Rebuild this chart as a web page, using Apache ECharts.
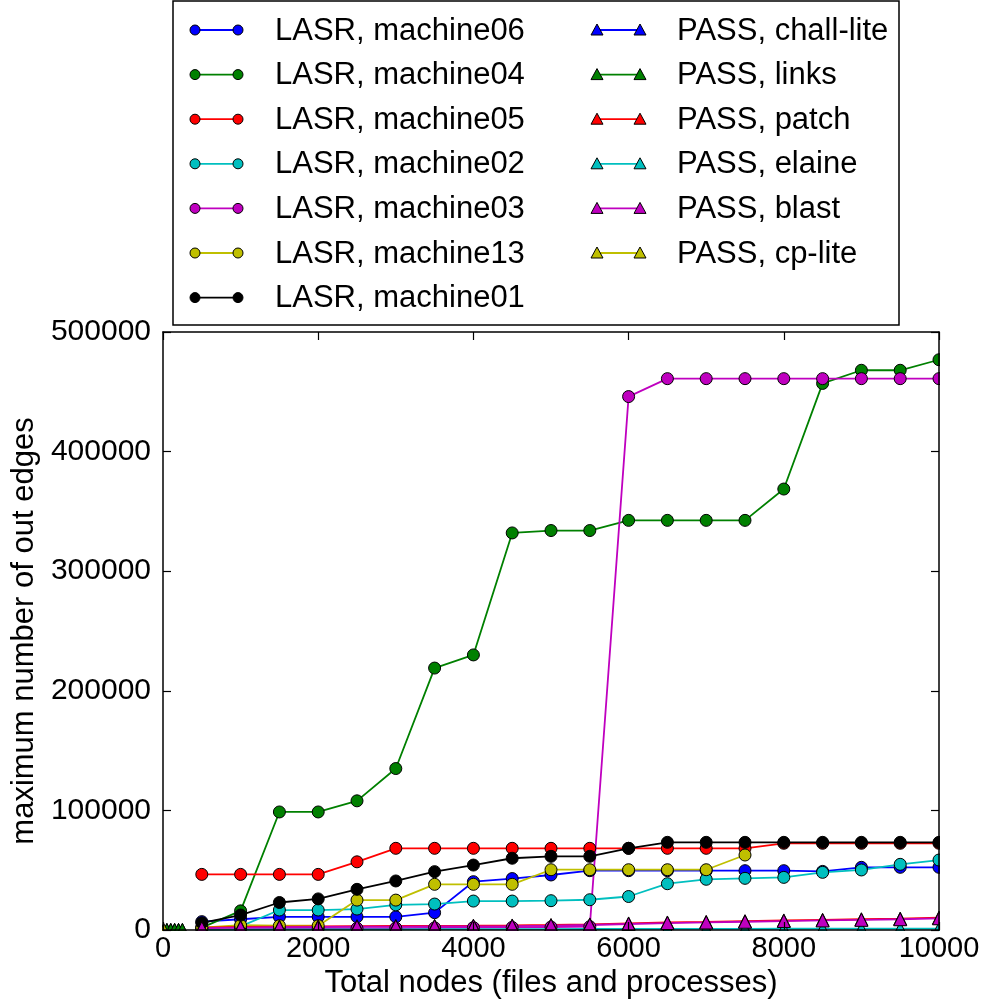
<!DOCTYPE html>
<html>
<head>
<meta charset="utf-8">
<script src="https://cdn.jsdelivr.net/npm/echarts@6/dist/echarts.min.js"></script>
<style>
  html, body { margin: 0; padding: 0; background: #fff; }
  #chart { width: 987px; height: 1000px; }
</style>
</head>
<body>
<div id="chart"></div>
<script>
// Sample sizes (total nodes) at which the LASR traces were measured
const xLasr = [500, 1000, 1500, 2000, 2500, 3000, 3500, 4000, 4500, 5000,
               5500, 6000, 6500, 7000, 7500, 8000, 8500, 9000, 9500, 10000];

// LASR traces: maximum number of out edges
const machine06 = [7000, 9000, 11000, 11000, 11000, 11000, 14500, 40400, 43000, 46000,
                   49600, 49600, 49600, 49600, 49600, 49600, 49000, 52400, 52400, 52400];
const machine04 = [2000, 16000, 98700, 98700, 108000, 135000, 219000, 230000, 332000, 334000,
                   334000, 342500, 342500, 342500, 342500, 368700, 457000, 468000, 468000, 476800];
const machine05 = [46500, 46500, 46500, 46500, 57000, 68300, 68300, 68300, 68300, 68300,
                   68300, 68300, 68300, 68300, 68300, 72500, 72500, 72500, 72500, 72500];
const machine02 = [1500, 3000, 16700, 16700, 17500, 21000, 21700, 24200, 24200, 24500,
                   25300, 28000, 38700, 42400, 43200, 44000, 48200, 50200, 54900, 58500];
const machine03 = [500, 800, 1000, 1200, 1400, 1600, 1800, 2000, 2200, 2500,
                   2800, 446000, 461000, 461000, 461000, 461000, 461000, 461000, 461000, 461000];
const machine13 = [2000, 4000, 3600, 3600, 25000, 25000, 38200, 38200, 38200, 50400,
                   50400, 50400, 50400, 50400, 62700];
const machine01 = [6000, 12500, 23000, 26000, 34000, 41000, 48800, 54300, 60000, 61600,
                   61600, 68300, 73300, 73300, 73300, 73300, 73300, 73300, 73300, 73300];

// PASS traces
const xPassSmall = [50, 100, 150, 200, 250];
const challLite = [0, 0, 0, 0, 0];
const links = [20, 40, 60, 80, 100];
const xPass = xLasr;
const patch = [2000, 2500, 2800, 3000, 3200, 3400, 3500, 3600, 3800, 4200,
               4700, 5500, 6300, 6800, 7400, 8000, 8500, 9000, 9500, 10300];
const elaine = [300, 400, 450, 500, 550, 600, 650, 700, 750, 800,
                850, 900, 950, 1000, 1000, 1050, 1100, 1100, 1150, 1200];
const blast = [1500, 2000, 2300, 2500, 2700, 2900, 3000, 3100, 3300, 3700,
               4200, 5000, 5800, 6300, 6900, 7500, 8000, 8500, 9000, 9800];
const xCpLite = [10];
const cpLite = [5];

// Axis ticks
const xTicks = { min: 0, max: 10000, interval: 2000 };
const yTicks = { min: 0, max: 500000, interval: 100000 };

const FONT = 'Liberation Sans, Arial, Helvetica, sans-serif';
const COLORS = { b: '#0000ff', g: '#008000', r: '#ff0000', c: '#00bfbf', m: '#bf00bf', y: '#bfbf00', k: '#000000' };

const seriesDefs = [
  { name: 'LASR, machine06', x: xLasr, y: machine06, color: COLORS.b, marker: 'circle' },
  { name: 'LASR, machine04', x: xLasr, y: machine04, color: COLORS.g, marker: 'circle' },
  { name: 'LASR, machine05', x: xLasr, y: machine05, color: COLORS.r, marker: 'circle' },
  { name: 'LASR, machine02', x: xLasr, y: machine02, color: COLORS.c, marker: 'circle' },
  { name: 'LASR, machine03', x: xLasr, y: machine03, color: COLORS.m, marker: 'circle' },
  { name: 'LASR, machine13', x: xLasr, y: machine13, color: COLORS.y, marker: 'circle' },
  { name: 'LASR, machine01', x: xLasr, y: machine01, color: COLORS.k, marker: 'circle' },
  { name: 'PASS, chall-lite', x: xPassSmall, y: challLite, color: COLORS.b, marker: 'triangle' },
  { name: 'PASS, links', x: xPassSmall, y: links, color: COLORS.g, marker: 'triangle' },
  { name: 'PASS, patch', x: xPass, y: patch, color: COLORS.r, marker: 'triangle' },
  { name: 'PASS, elaine', x: xPass, y: elaine, color: COLORS.c, marker: 'triangle' },
  { name: 'PASS, blast', x: xPass, y: blast, color: COLORS.m, marker: 'triangle' },
  { name: 'PASS, cp-lite', x: xCpLite, y: cpLite, color: COLORS.y, marker: 'triangle' }
];

const series = seriesDefs.map(d => ({
  name: d.name,
  type: 'line',
  xAxisIndex: 0,
  yAxisIndex: 0,
  data: d.y.map((v, i) => [d.x[i], v]),
  symbol: d.marker,
  symbolSize: d.marker === 'circle' ? 12 : 13,
  showAllSymbol: true,
  clip: true,
  animation: false,
  lineStyle: { color: d.color, width: 1.8 },
  itemStyle: { color: d.color, borderColor: '#000', borderWidth: 1, opacity: 1 },
  emphasis: { disabled: true }
}));

// Hand-drawn legend box with two columns
const legendItems = [];
const rowY0 = 30, rowStep = 44.6;
const cols = [
  { x1: 195, x2: 238, tx: 275 },
  { x1: 597, x2: 640, tx: 677 }
];
seriesDefs.forEach((d, i) => {
  const col = i < 7 ? cols[0] : cols[1];
  const row = i < 7 ? i : i - 7;
  const y = rowY0 + row * rowStep;
  legendItems.push({
    type: 'line', zlevel: 3, z: 21,
    shape: { x1: col.x1, y1: y, x2: col.x2, y2: y },
    style: { stroke: d.color, lineWidth: 1.8 }
  });
  [col.x1, col.x2].forEach(cx => {
    if (d.marker === 'circle') {
      legendItems.push({
        type: 'circle', zlevel: 3, z: 22,
        shape: { cx: cx, cy: y, r: 5 },
        style: { fill: d.color, stroke: '#000', lineWidth: 1 }
      });
    } else {
      legendItems.push({
        type: 'polygon', zlevel: 3, z: 22,
        shape: { points: [[cx, y - 6], [cx + 6, y + 5], [cx - 6, y + 5]] },
        style: { fill: d.color, stroke: '#000', lineWidth: 1 }
      });
    }
  });
  legendItems.push({
    type: 'text', zlevel: 3, z: 22,
    x: col.tx, y: y + 1,
    style: { text: d.name, fill: '#000', font: '31px ' + FONT, verticalAlign: 'middle', align: 'left' }
  });
});

// White strips outside the plot frame so half-visible markers are cut at the frame
const masks = [
  { type: 'rect', zlevel: 1, z: 5, shape: { x: 140, y: 931, width: 830, height: 10 }, style: { fill: '#fff' } },
  { type: 'rect', zlevel: 1, z: 5, shape: { x: 940, y: 320, width: 40, height: 615 }, style: { fill: '#fff' } },
  { type: 'rect', zlevel: 1, z: 5, shape: { x: 152, y: 320, width: 10, height: 615 }, style: { fill: '#fff' } }
];

const axisLineStyle = { color: '#000', width: 1.5 };
const tickStyle = { color: '#000', width: 1.2 };
const plainNumber = v => String(Math.round(v));

const baseX = {
  type: 'value', min: xTicks.min, max: xTicks.max, interval: xTicks.interval,
  splitLine: { show: false }, zlevel: 2, z: 10,
  axisLine: { show: true, onZero: false, lineStyle: axisLineStyle },
  axisTick: { show: true, inside: true, length: 8, lineStyle: tickStyle }
};
const baseY = {
  type: 'value', min: yTicks.min, max: yTicks.max, interval: yTicks.interval,
  splitLine: { show: false }, zlevel: 2, z: 10,
  axisLine: { show: true, onZero: false, lineStyle: axisLineStyle },
  axisTick: { show: true, inside: true, length: 8, lineStyle: tickStyle }
};

const option = {
  backgroundColor: '#fff',
  animation: false,
  textStyle: { fontFamily: FONT },
  grid: {
    left: 163, right: 48, top: 332, bottom: 70,
    show: false, containLabel: false, outerBoundsMode: 'none'
  },
  xAxis: [
    Object.assign({}, baseX, {
      position: 'bottom',
      axisLabel: { show: true, color: '#000', fontSize: 29, fontFamily: FONT, margin: 4, formatter: plainNumber },
      name: 'Total nodes (files and processes)',
      nameLocation: 'middle', nameGap: 23,
      nameTextStyle: { color: '#000', fontSize: 31, fontFamily: FONT }
    }),
    Object.assign({}, baseX, { position: 'top', axisLabel: { show: false } })
  ],
  yAxis: [
    Object.assign({}, baseY, {
      position: 'left',
      axisLabel: { show: true, color: '#000', fontSize: 30, fontFamily: FONT, margin: 12, formatter: plainNumber },
      name: 'maximum number of out edges',
      nameLocation: 'middle', nameGap: 119, nameRotate: 90,
      nameTextStyle: { color: '#000', fontSize: 31, fontFamily: FONT }
    }),
    Object.assign({}, baseY, { position: 'right', axisLabel: { show: false } })
  ],
  series: series,
  graphic: [
    ...masks,
    {
      type: 'rect', zlevel: 3, z: 20,
      shape: { x: 173, y: 1, width: 726, height: 324 },
      style: { fill: '#fff', stroke: '#000', lineWidth: 1.5 }
    },
    ...legendItems
  ]
};

const chart = echarts.init(document.getElementById('chart'), null, { renderer: 'canvas' });
chart.setOption(option);
</script>
</body>
</html>
